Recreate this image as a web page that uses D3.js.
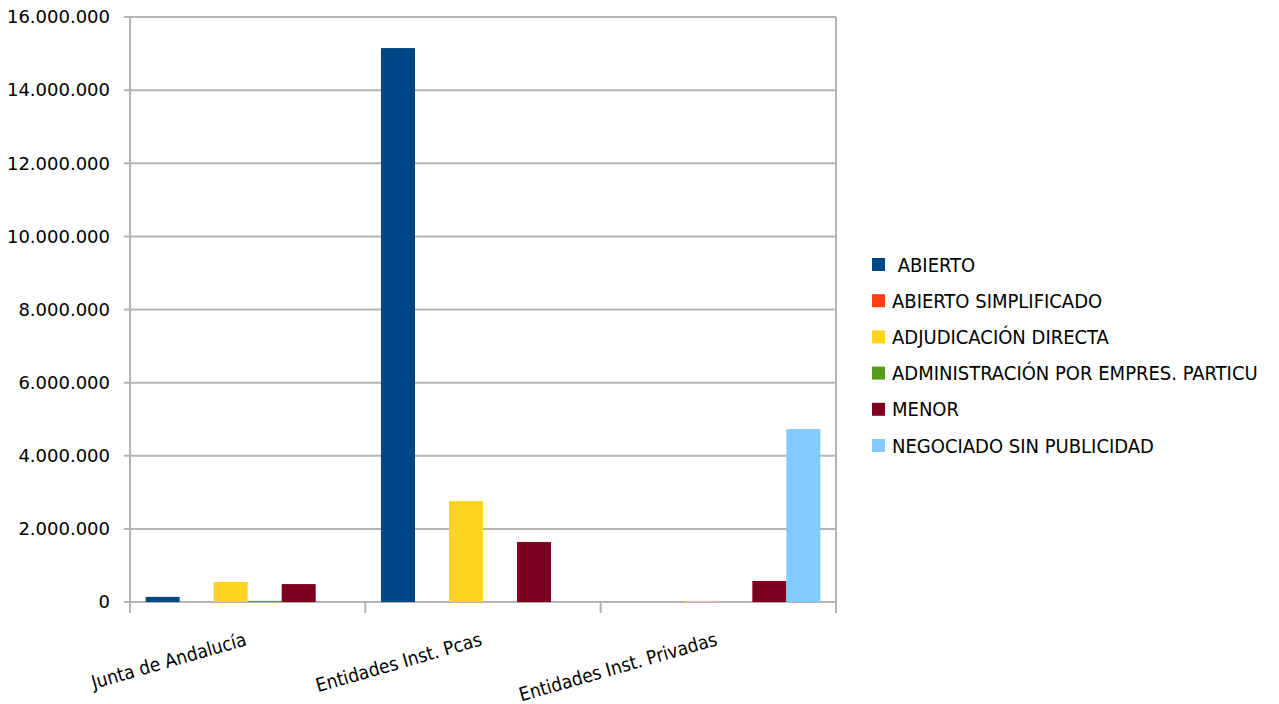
<!DOCTYPE html>
<html><head><meta charset="utf-8">
<script src="https://cdn.jsdelivr.net/npm/d3@7"></script>
<style>body{margin:0;background:#fff;} text{font-family:"DejaVu Sans Condensed","DejaVu Sans",sans-serif;fill:#000;}</style>
</head><body>
<svg id="c" width="1279" height="704"></svg>
<script>
const categories = ["Junta de Andalucía", "Entidades Inst. Pcas", "Entidades Inst. Privadas"];
const seriesNames = [" ABIERTO", "ABIERTO SIMPLIFICADO", "ADJUDICACIÓN DIRECTA", "ADMINISTRACIÓN POR EMPRES. PARTICU", "MENOR", "NEGOCIADO SIN PUBLICIDAD"];
const seriesColors = ["#004586", "#ff420e", "#ffd320", "#579d1c", "#7e0021", "#83caff"];
const abierto = [140000, 15150000, 0];
const abiertoSimplificado = [0, 0, 0];
const adjudicacionDirecta = [550000, 2760000, 30000];
const administracion = [30000, 0, 0];
const menor = [490000, 1640000, 575000];
const negociado = [0, 0, 4730000];
const seriesValues = [abierto, abiertoSimplificado, adjudicacionDirecta, administracion, menor, negociado];
const yTicks = [0, 2000000, 4000000, 6000000, 8000000, 10000000, 12000000, 14000000, 16000000];

const svg = d3.select("#c");
const x0 = d3.scaleBand().domain(categories).range([130, 836]).paddingInner(0).paddingOuter(0);
const x1 = d3.scaleBand().domain(d3.range(seriesNames.length)).range([0, x0.bandwidth()]).paddingOuter(0.46).paddingInner(0);
const y = d3.scaleLinear().domain([0, 16000000]).range([602, 17]);
const fmt = v => d3.format(",")(v).replace(/,/g, ".");

// gridlines
svg.append("g").selectAll("line").data(yTicks).join("line")
  .attr("x1", 124).attr("x2", 836).attr("y1", d => y(d)).attr("y2", d => y(d))
  .attr("stroke", "#b3b3b3").attr("stroke-width", 2);
// y axis line
svg.append("line").attr("x1", 130).attr("x2", 130).attr("y1", 17).attr("y2", 608).attr("stroke", "#b3b3b3").attr("stroke-width", 2);
// x category ticks
svg.append("g").selectAll("line").data([...categories.map(c => x0(c)), 836]).join("line")
  .attr("x1", d => d).attr("x2", d => d).attr("y1", 602).attr("y2", 613)
  .attr("stroke", "#b3b3b3").attr("stroke-width", 2);
svg.append("line").attr("x1", 836).attr("x2", 836).attr("y1", 17).attr("y2", 602).attr("stroke", "#b3b3b3").attr("stroke-width", 2);

// y labels
svg.append("g").selectAll("text").data(yTicks).join("text")
  .attr("x", 110).attr("y", d => y(d)).attr("dy", "0.35em").attr("text-anchor", "end")
  .style("font-size", "18px").style("font-family", "'DejaVu Sans',sans-serif").text(fmt);

// bars
seriesValues.forEach((vals, si) => {
  svg.append("g").selectAll("rect").data(vals.map((v, i) => ({v, c: categories[i]}))).join("rect")
    .attr("x", d => x0(d.c) + x1(si)).attr("width", x1.bandwidth())
    .attr("y", d => y(d.v)).attr("height", d => Math.max(0, y(0) - y(d.v)))
    .attr("fill", seriesColors[si]);
});

// x labels
svg.append("g").selectAll("text").data(categories).join("text")
  .attr("text-anchor", "end")
  .attr("transform", d => `translate(${x0(d) + x0.bandwidth() / 2},645) rotate(-16)`)
  .style("font-size", "19px").text(d => d);

// legend
const lg = svg.append("g");
seriesNames.forEach((n, i) => {
  const yy = 264 + i * 36.2;
  lg.append("rect").attr("x", 872).attr("y", yy - 6).attr("width", 13).attr("height", 13).attr("fill", seriesColors[i]);
  lg.append("text").attr("x", 892).attr("y", yy).attr("dy", "0.38em").style("font-size", "20px").attr("xml:space", "preserve").text(n);
});
</script>
</body></html>
